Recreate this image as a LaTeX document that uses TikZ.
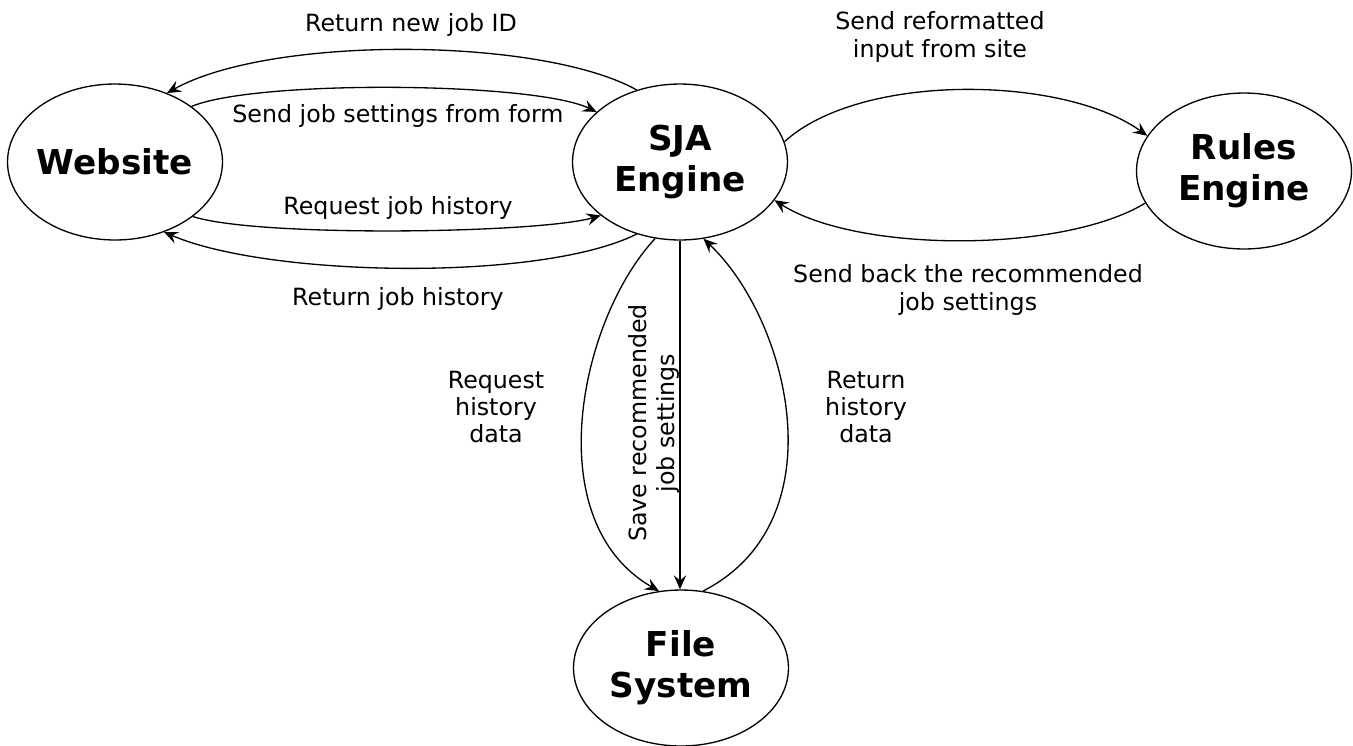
\documentclass[tikz,border=0pt]{standalone}
\usepackage{fontspec}
\setmainfont{DejaVu Sans}
\usepackage{tikz}
\usetikzlibrary{shapes.geometric}
\usetikzlibrary{arrows.meta}
\tikzset{>={Stealth[length=8pt,width=7pt,inset=3pt]}}
\newcommand{\zw}[1]{\makebox[0pt]{#1}}

\begin{document}
\begin{tikzpicture}[x=0.02cm,y=0.02cm,line width=0.75pt,
	proc/.style={draw,ellipse,inner sep=0pt,minimum width=4.3cm,minimum height=3.12cm,
		align=center,font=\fontsize{19.5}{23.5}\selectfont\bfseries},
	lbl/.style={align=center,inner sep=1pt,font=\fontsize{13.5}{15.5}\selectfont}]
	\useasboundingbox (0,0) rectangle (1353,-745);
	% processes
	\node[proc] (web) at (115,-162) {\zw{Website}};
	\node[proc] (sja) at (680,-162) {\zw{SJA}\\\zw{Engine}};
	\node[proc] (rules) at (1244,-171) {\zw{Rules}\\\zw{Engine}};
	\node[proc] (file) at (681,-668) {\zw{File}\\\zw{System}};
	% website <-> sja
	\draw[->] (sja.121) .. controls +(-95,53) and +(104,58) .. (web.53);
	\draw[->] (web.36.2) .. controls +(65,27) and +(-62,30) .. (sja.149.4);
	\draw[->] (web.-35) .. controls +(65,-21) and +(-62,-18) .. (sja.214.3);
	\draw[->] (sja.239.6) .. controls +(-96,-48) and +(104,-45) .. (web.-55.6);
	% sja <-> rules
	\draw[->] (sja.11.5) .. controls +(77,70) and +(-83,60) .. (rules.160.4);
	\draw[->] (rules.198.4) .. controls +(-82,-50) and +(83,-53) .. (sja.-22.4);
	% sja <-> file system
	\draw[->] (sja.252) .. controls +(-75,-80) and +(-122,70) .. (file.106.4);
	\draw[->] (sja.south) -- (sja.south |- file.north);
	\draw[->] (file.74) .. controls +(137,70) and +(85,-80) .. (sja.287.6);
	% labels
	\node[lbl] (newid) at (411,-25) {Return new job ID};
	\node[lbl] (sendset) at (398,-116) {Send job settings from form};
	\node[lbl] (reqhist) at (398,-208) {Request job history};
	\node[lbl] (rethist) at (398,-299) {Return job history};
	\node[lbl] (reform) at (940,-37) {Send reformatted\\input from site};
	\node[lbl] (sendback) at (968,-290) {Send back the recommended\\job settings};
	\node[lbl] (reqdata) at (496,-407) {Request\\history\\data};
	\node[lbl] (retdata) at (866,-407) {Return\\history\\data};
	\node[lbl,rotate=90] (save) at (654,-423) {Save recommended\\job settings};
\end{tikzpicture}
\end{document}
